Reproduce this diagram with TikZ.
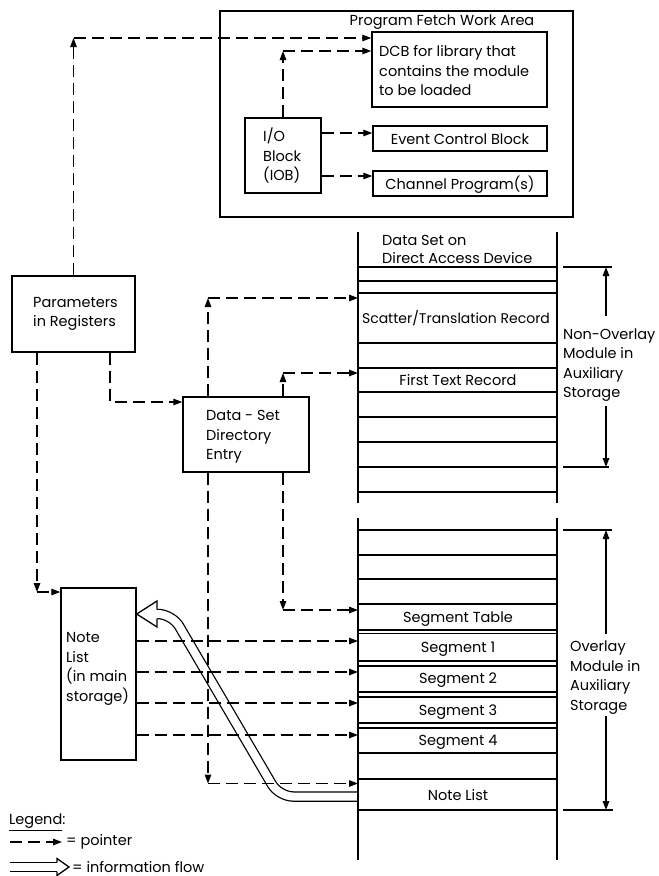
\documentclass[tikz,border=0pt]{standalone}
\usepackage{fontspec}
\setmainfont{Poppins}
\usetikzlibrary{arrows.meta}
\begin{document}
\begin{tikzpicture}[x=1pt,y=-1pt,
  every node/.style={font=\fontsize{14.5}{19.5}\selectfont, inner sep=0pt},
  box/.style={draw, line width=1.4pt, inner sep=0pt},
  lbl/.style={anchor=west, align=left},
  ptr/.style={line width=1.3pt, dash pattern=on 12pt off 6pt, -{Triangle[length=9pt,width=6.5pt]}},
  seg/.style={line width=1.3pt},
  dimtip/.style={-{Triangle[length=9pt,width=6.5pt]}},
  ]
\useasboundingbox (0,0) rectangle (659,876);

% ---------- Program fetch work area ----------
\node[box, minimum width=353pt, minimum height=206pt] (pfwa) at (396.5,114) {};
\node (pfwat) at (442,22) {Program Fetch Work Area};
\node[box, minimum width=175pt, minimum height=75pt] (dcb) at (459.5,69.5) {};
\node[lbl] (dcbt) at (379,71) {DCB for library that\\contains the module\\to be loaded};
\node[box, minimum width=76pt, minimum height=75pt] (iob) at (283,155.5) {};
\node[lbl] (iobt) at (263,156) {I/O\\Block\\(IOB)};
\node[box, minimum width=174pt, minimum height=25pt] (ecb) at (460,138.5) {};
\node (ecbt) at (460,139) {Event Control Block};
\node[box, minimum width=174pt, minimum height=25pt] (chp) at (460,183.5) {};
\node (chpt) at (460,184.5) {Channel Program(s)};

% ---------- left boxes ----------
\node[box, minimum width=123pt, minimum height=76pt] (params) at (73.5,314) {};
\node[lbl] (paramst) at (33,314) {Parameters\\in Registers};
\node[box, minimum width=126pt, minimum height=75pt] (dsde) at (246,434.5) {};
\node[lbl] (dsdet) at (206,437) {Data - Set\\Directory\\Entry};
\node[box, minimum width=75pt, minimum height=172pt] (note) at (98.5,674) {};
\node[lbl] (notet) at (66,669) {Note\\List\\(in main\\storage)};

% ---------- information flow (drawn below the rest) ----------
\coordinate (f0) at (358,796.5);
\coordinate (f1) at (279,796.5);
\coordinate (f2) at (172,614);
\coordinate (f3) at (156,614);
\draw[line width=10.5pt, rounded corners=14pt] (f0) -- (f1) -- (f2) -- (f3);
\draw[white, line width=8pt, rounded corners=14pt] (f0) -- (f1) -- (f2) -- (f3);
\fill[white] (157,601) -- (note.east |- f3) -- (157,627) -- cycle;
\draw[line width=1.3pt] (157,609.5) -- (157,601) -- (note.east |- f3) -- (157,627) -- (157,618.5);

% ---------- data set column ----------
\coordinate (colL) at (358,0);
\draw[seg] (358,232) -- (358,503);
\draw[seg] (557,232) -- (557,503);
\foreach \y in {267,281,293,343,368,392,417,442,467,492}
  \draw[seg] (358,\y) -- (557,\y);
\draw[seg] (358,518) -- (358,860);
\draw[seg] (557,518) -- (557,860);
\foreach \y in {530,555,579,604,630,633.5,661,666,692,697,723,728,753,779,810}
  \draw[seg] (358,\y) -- (557,\y);

\node[lbl, font=\fontsize{14.5}{18}\selectfont] (dsh) at (382,249) {Data Set on\\Direct Access Device};
\node[font=\fontsize{14}{18}\selectfont] (str) at (456,318) {Scatter/Translation Record};
\node (ftr) at (458,380.5) {First Text Record};
\node (segt) at (458,619) {Segment Table};
\node (seg1) at (458,649) {Segment 1};
\node (seg2) at (458,680) {Segment 2};
\node (seg3) at (458,712) {Segment 3};
\node (seg4) at (458,742.5) {Segment 4};
\node (nlr) at (458,795) {Note List};

% ---------- dimension markers ----------
\node[lbl] (nonov) at (563,365) {Non-Overlay\\Module in\\Auxiliary\\Storage};
\node[lbl] (ov) at (570,677.5) {Overlay\\Module in\\Auxiliary\\Storage};
\coordinate (n1) at (606,267);
\coordinate (n2) at (606,316);
\coordinate (n3) at (606,406);
\coordinate (n4) at (606,467);
\draw[seg] (563,267) -- (612,267);
\draw[seg] (563,467) -- (609,467);
\draw[seg, dimtip] (n2) -- (n1);
\draw[seg, dimtip] (n3) -- (n4);
\coordinate (o1) at (606,530);
\coordinate (o2) at (606,634);
\coordinate (o3) at (606,716);
\coordinate (o4) at (606,810);
\draw[seg] (563,530) -- (612,530);
\draw[seg] (563,810) -- (613,810);
\draw[seg, dimtip] (o2) -- (o1);
\draw[seg, dimtip] (o3) -- (o4);

% ---------- pointers ----------
\coordinate (a1) at (73.5,38);
\draw[ptr] (params.north) -- (a1);
\draw[ptr] (a1) -- (dcb.west |- a1);
\coordinate (a2) at (283,51);
\draw[ptr] (iob.north) -- (a2);
\draw[ptr] (a2) -- (dcb.west |- a2);
\draw[ptr] (iob.east |- 0,133) -- (ecb.west |- 0,133);
\draw[ptr] (iob.east |- 0,176) -- (chp.west |- 0,176);

\coordinate (a3) at (110,402);
\draw[ptr] (params.south -| a3) -- (a3) -- (dsde.west |- a3);
\coordinate (a4) at (37,592);
\draw[ptr] (params.south -| a4) -- (a4);
\draw[ptr] (a4) -- (note.west |- a4);

\coordinate (a5) at (208,298);
\draw[ptr] (dsde.north -| a5) -- (a5);
\draw[ptr] (a5) -- (colL |- a5);
\coordinate (a6) at (283,373);
\draw[ptr] (dsde.north -| a6) -- (a6);
\draw[ptr] (a6) -- (colL |- a6);
\coordinate (a7) at (208,783.5);
\draw[ptr] (dsde.south -| a7) -- (a7);
\draw[ptr] (a7) -- (colL |- a7);
\coordinate (a8) at (283,610);
\draw[ptr] (dsde.south -| a8) -- (a8);
\draw[ptr] (a8) -- (colL |- a8);

\foreach \y in {641,672,703,735}
  \draw[ptr] (note.east |- 0,\y) -- (colL |- 0,\y);

% ---------- legend ----------
\node[anchor=west] (leg) at (9,822) {\underline{Legend}:};
\coordinate (l1) at (10,842);
\coordinate (l2) at (62,842);
\draw[ptr] (l1) -- (l2);
\node[anchor=west] (legp) at (66,842) {= pointer};
\coordinate (m1) at (10,867);
\coordinate (m2) at (57,867);
\draw[line width=10.5pt] (m1) -- (m2);
\draw[white, line width=8pt] (m1) -- (m2);
\fill[white] (57,858.5) -- (69,867) -- (57,875.5) -- cycle;
\draw[line width=1.3pt] (57,862.5) -- (57,858.5) -- (69,867) -- (57,875.5) -- (57,871.5);
\node[anchor=west] (legf) at (72,867) {= information flow};
\end{tikzpicture}
\end{document}
